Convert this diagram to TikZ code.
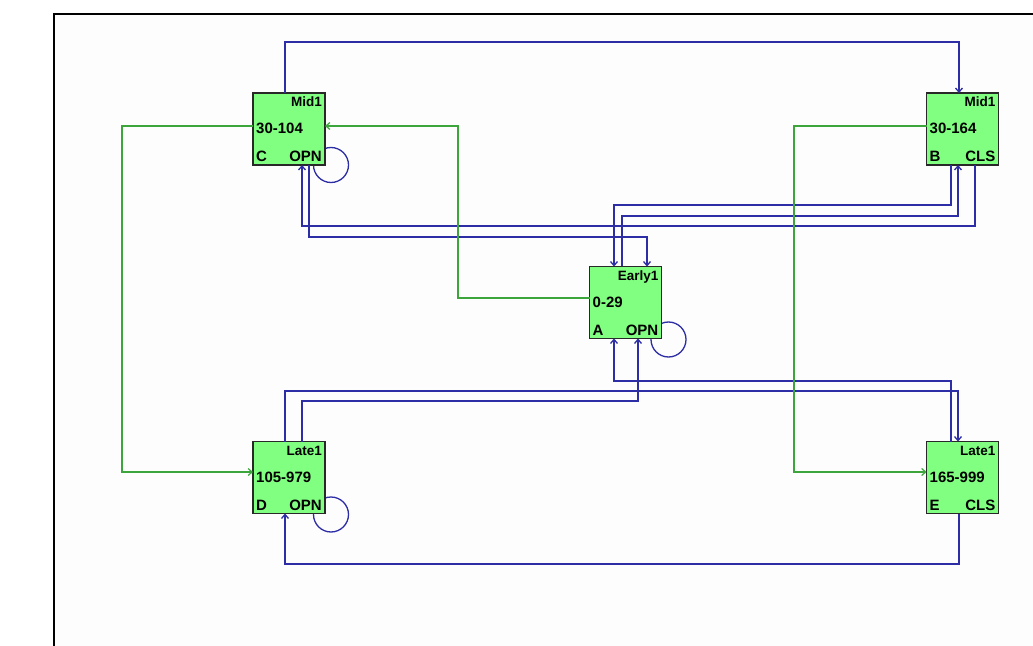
\documentclass[tikz,border=0pt]{standalone}
\usepackage{fontspec}
\setmainfont{Liberation Sans}
\usetikzlibrary{arrows.meta,calc}
\pgfdeclarelayer{bg}
\pgfsetlayers{bg,main}
\definecolor{lnblue}{RGB}{45,45,165}
\definecolor{lngreen}{RGB}{60,165,60}
\definecolor{boxgreen}{RGB}{128,255,128}
\definecolor{boxedge}{RGB}{40,40,40}
\definecolor{paper}{RGB}{253,253,253}
\newcommand{\mystatebox}[6]{%
  \node[blk] (#1) at (#2) {};
  \node[small, anchor=base east] (#1-name) at ([xshift=-3bp,yshift=-14bp]#1.north east) {#3};
  \node[big, anchor=base west] (#1-range) at ([xshift=3bp,yshift=-41bp]#1.north west) {#4};
  \node[big, anchor=base west] (#1-id) at ([xshift=3bp,yshift=3bp]#1.south west) {#5};
  \node[big, anchor=base east] (#1-st) at ([xshift=-3bp,yshift=3bp]#1.south east) {#6};
}
\begin{document}
\begin{tikzpicture}[x=1bp,y=-1bp,
  blk/.style={draw=boxedge, fill=boxgreen, line width=1.2bp, minimum width=72bp, minimum height=72bp, inner sep=0pt, outer sep=0pt},
  bl/.style={draw=lnblue, line width=1.3bp},
  gr/.style={draw=lngreen, line width=1.2bp},
  tip/.style={-{Straight Barb[length=4bp,width=7bp]}},
  small/.style={font=\bfseries\fontsize{13.5bp}{14bp}\selectfont, inner sep=0pt, text=black},
  big/.style={font=\bfseries\fontsize{15bp}{16bp}\selectfont, inner sep=0pt, text=black},
]
\useasboundingbox (0,0) rectangle (1033,646);

\mystatebox{C}{289,129}{Mid1}{30-104}{C}{OPN}
\mystatebox{B}{962.5,129}{Mid1}{30-164}{B}{CLS}
\mystatebox{A}{625.5,302.5}{Early1}{0-29}{A}{OPN}
\mystatebox{D}{289,477.5}{Late1}{105-979}{D}{OPN}
\mystatebox{E}{962.5,477.5}{Late1}{165-999}{E}{CLS}

\begin{pgfonlayer}{bg}
  \fill[white] (0,0) rectangle (1033,646);
  \fill[paper] (54,14) rectangle (1033,646);
  \draw[black, line width=2bp] (54,646) -- (54,14) -- (1033,14);
  \draw[bl] ($(C.south east)+(6,0)$) circle[radius=17.5bp];
  \draw[bl] ($(A.south east)+(7,1)$) circle[radius=17.5bp];
  \draw[bl] ($(D.south east)+(6,1)$) circle[radius=17.5bp];
\end{pgfonlayer}

% blue connectors
\draw[bl,tip] ([xshift=-4bp]C.north) -- ++(0,-51) -| ([xshift=-3.5bp]B.north);
\draw[bl,tip] ([xshift=-11.5bp]B.south) -- ++(0,40) -| ([xshift=-11.5bp]A.north);
\draw[bl,tip] ([xshift=-3.5bp]A.north) -- ++(0,-50.5) -| ([xshift=-4.5bp]B.south);
\draw[bl,tip] ([xshift=12.5bp]B.south) -- ++(0,61) -| ([xshift=13bp]C.south);
\draw[bl,tip] ([xshift=20bp]C.south) -- ++(0,72) -| ([xshift=21.5bp]A.north);
\draw[bl,tip] ([xshift=-11.5bp]E.north) -- ++(0,-60.5) -| ([xshift=-11.5bp]A.south);
\draw[bl,tip] ([xshift=-4bp]D.north) -- ++(0,-50.5) -| ([xshift=-4.5bp]E.north);
\draw[bl,tip] ([xshift=13bp]D.north) -- ++(0,-40.5) -| ([xshift=12.5bp]A.south);
\draw[bl,tip] ([xshift=-3.5bp]E.south) -- ++(0,50.5) -| ([xshift=-4bp]D.south);

% green connectors
\draw[gr,tip] ([yshift=4.5bp]A.west) -- ++(-131.5,0) |- ([yshift=3bp]C.east);
\draw[gr,tip] ([yshift=3bp]C.west) -- ++(-131,0) |- ([yshift=5.5bp]D.west);
\draw[gr,tip] ([yshift=3bp]B.west) -- ++(-132.5,0) |- ([yshift=5.5bp]E.west);
\end{tikzpicture}
\end{document}
